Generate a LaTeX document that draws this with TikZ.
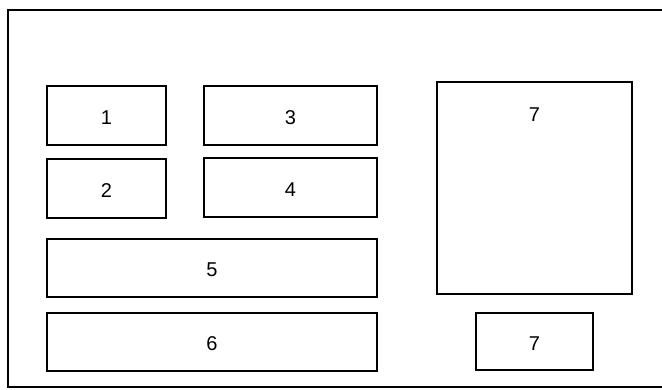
\documentclass[tikz,border=0pt]{standalone}
\usepackage{fontspec}
\setmainfont{Liberation Sans}
\usetikzlibrary{positioning}

\begin{document}
\begin{tikzpicture}[
  x=1pt, y=-1pt, every node/.style={font=\fontsize{20}{24}\selectfont},
  box/.style={draw, line width=2pt, inner sep=0pt, outer sep=0pt,
    minimum height=59pt, text height=18pt},
  frame/.style={line width=2.2pt}
]
  \useasboundingbox (0,0) rectangle (662,390);

  % Outer frame (right side runs off the page)
  \draw[frame] (666,10) -- (8,10) -- (8,387) -- (666,387);

  % Left column
  \node[box, minimum width=119pt, anchor=north west] (b1) at (47,86) {1};
  \node[box, minimum width=119pt, below=14pt of b1] (b2) {2};

  % Middle column
  \node[box, minimum width=173pt, right=38pt of b1] (b3) {3};
  \node[box, minimum width=173pt, below=13pt of b3] (b4) {4};

  % Wide boxes
  \node[box, minimum width=330pt, minimum height=58pt, anchor=north west]
    (b5) at (47,239) {5};
  \node[box, minimum width=330pt, minimum height=58pt, below=16pt of b5] (b6) {6};

  % Right column
  \node[box, minimum width=195pt, minimum height=212pt, anchor=north west,
    label={[anchor=center, yshift=-33pt]north:7}] (b7) at (437,82) {};
  \node[box, minimum width=117pt, minimum height=57pt, below=19pt of b7] (b8) {7};
\end{tikzpicture}
\end{document}
